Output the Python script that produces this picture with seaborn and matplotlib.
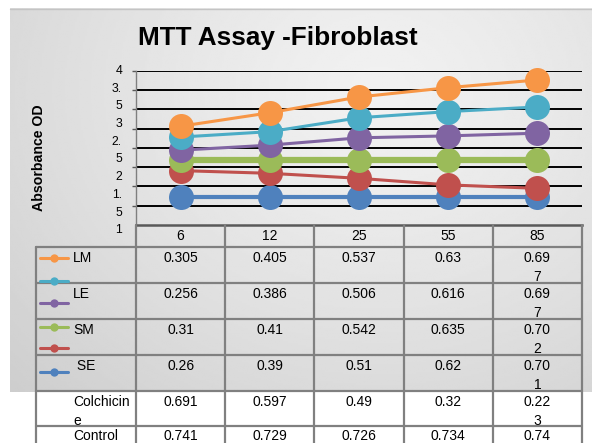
import numpy as np
import pandas as pd
import matplotlib
matplotlib.use("Agg")
import matplotlib.pyplot as plt
from matplotlib.lines import Line2D
import seaborn as sns

sns.set_theme(style="white")
plt.rcParams["font.family"] = ["Liberation Sans", "DejaVu Sans"]
plt.rcParams["text.color"] = "black"

# ---- data ----
hours = ["6", "12", "25", "55", "85"]

# plotted series (absorbance, chart scale)
lm_line = [2.56, 2.91, 3.32, 3.56, 3.76]
cyan_line = [2.28, 2.42, 2.78, 2.94, 3.06]
le_line = [1.94, 2.07, 2.26, 2.31, 2.38]
sm_line = [1.68, 1.68, 1.68, 1.68, 1.68]
red_line = [1.41, 1.34, 1.21, 1.04, 0.95]
se_line = [0.73, 0.73, 0.73, 0.73, 0.73]

# data-table rows
table_labels = ["LM", "LE", "SM", " SE", "Colchicine", "Control"]
lm_vals = ["0.305", "0.405", "0.537", "0.63", "0.697"]
le_vals = ["0.256", "0.386", "0.506", "0.616", "0.697"]
sm_vals = ["0.31", "0.41", "0.542", "0.635", "0.702"]
se_vals = ["0.26", "0.39", "0.51", "0.62", "0.701"]
colchicine_vals = ["0.691", "0.597", "0.49", "0.32", "0.223"]
control_vals = ["0.741", "0.729", "0.726", "0.734", "0.74"]

y_tick_text = ["4", "3.", "5", "3", "2.", "5", "2", "1.", "5", "1"]

series = [
    ("LM", lm_line, "#F79646", 2.2),
    ("cyan", cyan_line, "#4BACC6", 2.2),
    ("LE", le_line, "#8064A2", 2.2),
    ("SM", sm_line, "#9BBB59", 4.5),
    ("red", red_line, "#C0504D", 2.2),
    ("SE", se_line, "#4F81BD", 3.0),
]

W, H = 592, 443
DPI = 100
fig = plt.figure(figsize=(W / DPI, H / DPI), dpi=DPI)
fig.patch.set_facecolor("white")

# ---- background panel with soft radial shading (pixel coordinates) ----
bg = fig.add_axes([0, 0, 1, 1], zorder=0)
bg.set_xlim(0, W)
bg.set_ylim(H, 0)
bg.axis("off")
gx, gy = np.meshgrid(np.linspace(10, W, 300), np.linspace(8, 392, 200))
r = np.sqrt(((gx - 380) / 430) ** 2 + ((gy - 90) / 360) ** 2)
shade = np.clip(0.945 - 0.11 * r ** 1.3, 0.80, 0.95)
bg.imshow(shade, cmap="gray", vmin=0, vmax=1, extent=[10, W, 392, 8],
          aspect="auto", interpolation="bilinear", zorder=0)
bg.plot([10, W], [8.5, 8.5], color="#c4c4c4", lw=1.0, zorder=1)

# ---- main chart ----
L, R, T, B = 136, 582, 70.7, 225
ax = fig.add_axes([L / W, 1 - B / H, (R - L) / W, (B - T) / H], zorder=2)
ax.patch.set_alpha(0)
ax.set_xlim(-0.5, 4.5)
ax.set_ylim(0, 4)
for gv in np.arange(0.5, 4.01, 0.5):
    ax.axhline(gv, color="black", lw=1.4, zorder=1)

x_pos = np.arange(len(hours))
for name, vals, col, lw in reversed(series):
    df = pd.DataFrame({"x": x_pos, "y": vals})
    sns.lineplot(data=df, x="x", y="y", ax=ax, color=col, lw=lw,
                 marker="o", markersize=18, markeredgewidth=0,
                 zorder=3, clip_on=False, legend=False)

ax.set_xticks([])
ax.set_yticks(np.arange(0.5, 4.01, 0.5))
ax.set_yticklabels([])
ax.tick_params(axis="y", length=3, width=1.0, color="#595959", left=True)
ax.set_xlabel("")
ax.set_ylabel("")
for s in ["top", "right"]:
    ax.spines[s].set_visible(False)
ax.spines["left"].set_color("#7f7f7f")
ax.spines["left"].set_linewidth(1.0)
ax.spines["bottom"].set_color("#595959")
ax.spines["bottom"].set_linewidth(1.8)

# ---- overlay for titles, axis text and the data table ----
ov = fig.add_axes([0, 0, 1, 1], zorder=3)
ov.set_xlim(0, W)
ov.set_ylim(H, 0)
ov.axis("off")
ov.patch.set_alpha(0)

ov.text(278, 38, "MTT Assay -Fibroblast", fontsize=18.8, fontweight="bold",
        ha="center", va="center")
ov.text(39, 158, "Absorbance OD", fontsize=10.2, fontweight="bold",
        rotation=90, ha="center", va="center")

for i, t in enumerate(y_tick_text):
    ov.text(122, 71 + i * 17.7, t, fontsize=8.8, ha="right", va="center")

col_edges = np.linspace(L, R, len(hours) + 1)
col_centers = (col_edges[:-1] + col_edges[1:]) / 2
row_edges = [247, 283, 319, 355, 391, 426, 462]
grid_col = "#808080"

# header row (category labels)
for xc, h in zip(col_centers, hours):
    ov.text(xc, 236, h, fontsize=10, ha="center", va="center")
for xe in col_edges:
    ov.plot([xe, xe], [B, H + 5], color=grid_col, lw=1.6, zorder=2)
ov.plot([36, 36], [row_edges[0], H + 5], color=grid_col, lw=1.6, zorder=2)
for ye in row_edges[:-1]:
    ov.plot([36, R], [ye, ye], color=grid_col, lw=1.6, zorder=2)


def wrap(s, width):
    return s if len(s) <= width else s[:width] + "\n" + s[width:]


rows = [lm_vals, le_vals, sm_vals, se_vals, colchicine_vals, control_vals]
for ri, (lab, vals) in enumerate(zip(table_labels, rows)):
    top = row_edges[ri]
    ov.text(73, top + 3.5, wrap(lab, 9), fontsize=10, ha="left", va="top",
            linespacing=1.5)
    for ci, v in enumerate(vals):
        txt = wrap(v, 4) if ci == len(vals) - 1 else v
        ov.text(col_centers[ci], top + 3.5, txt, fontsize=10, ha="center",
                va="top", linespacing=1.5)

# legend keys inside the table
key_y = [258, 281, 303, 327, 348, 372]
for (name, vals, col, lw), ky in zip(series, key_y):
    ov.add_line(Line2D([40, 68], [ky, ky], color=col, lw=2.2))
    ov.plot([54], [ky], marker="o", color=col, markersize=6,
            markeredgewidth=0)

fig.savefig("out.png", dpi=DPI)
